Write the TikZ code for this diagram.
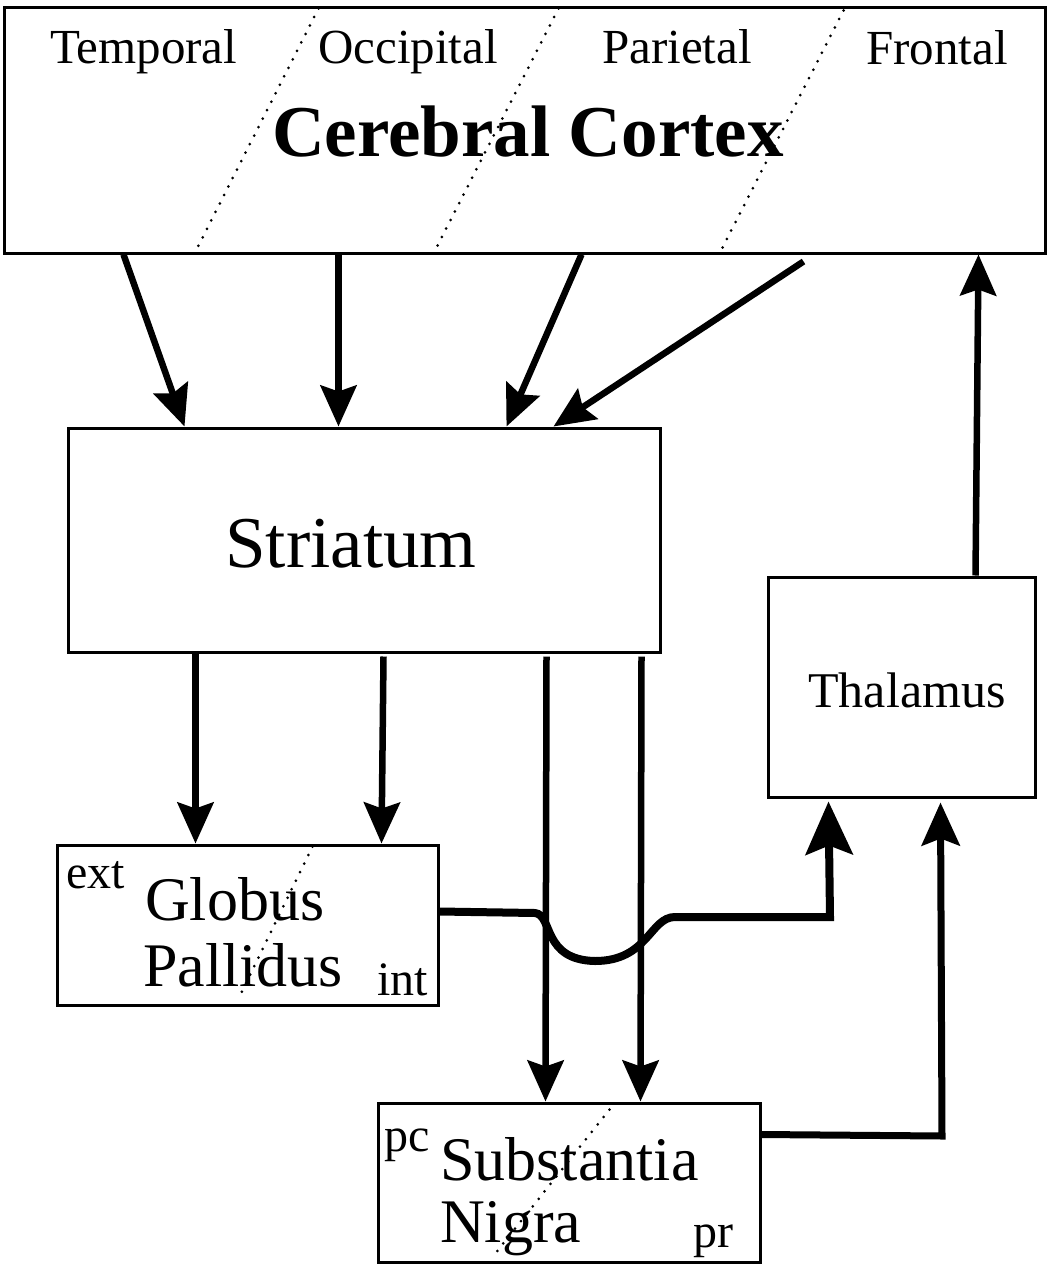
\documentclass[tikz,border=0pt]{standalone}
\usepackage{fontspec}
\setmainfont{Liberation Serif}
\usetikzlibrary{arrows.meta,calc}

\tikzset{
  box/.style={draw, line width=3pt, rectangle, inner sep=0pt},
  conn/.style={line width=6.5pt, line join=miter,
    -{Stealth[length=41pt,width=36pt,inset=6pt]}},
  bigconn/.style={line width=8pt, line join=miter,
    -{Stealth[length=53pt,width=47pt,inset=9pt]}},
  midconn/.style={line width=7pt, line join=miter,
    -{Stealth[length=43pt,width=38pt,inset=7pt]}},
  border/.style={dash pattern=on 0pt off 9.5pt, line cap=round, line width=3pt},
  lobe/.style={anchor=base west, font=\fontsize{49}{58}\selectfont, inner sep=0pt},
  big/.style={anchor=base, font=\fontsize{73}{86}\selectfont, inner sep=0pt},
  mid/.style={anchor=base west, font=\fontsize{62}{74}\selectfont, inner sep=0pt},
  sub/.style={anchor=base west, font=\fontsize{48}{58}\selectfont, inner sep=0pt},
}

\begin{document}
\begin{tikzpicture}[x=1pt,y=-1pt]
\useasboundingbox (0,0) rectangle (1051,1268);

% boxes
\node[box, minimum width=1041pt, minimum height=245pt] (cortex)   at (524.5,130.5) {};
\node[box, minimum width=592pt,  minimum height=224pt] (striatum) at (364,540) {};
\node[box, minimum width=267pt,  minimum height=220pt] (thalamus) at (901.5,687) {};
\node[box, minimum width=381pt,  minimum height=160pt] (gp)       at (247.5,925) {};
\node[box, minimum width=382pt,  minimum height=159pt] (sn)       at (569,1182.5) {};

% lobe borders inside the cortex
\draw[border] ($(cortex.north west)+(316,2)$) -- ($(cortex.south west)+(193,-3)$);
\draw[border] ($(cortex.north west)+(556,2)$) -- ($(cortex.south west)+(432,-3)$);
\draw[border] ($(cortex.north west)+(841,4)$) -- ($(cortex.south west)+(718,-3)$);

% ext / int and pc / pr borders
\draw[border] ($(gp.north west)+(257,3)$) -- ($(gp.south west)+(184,-10)$);
\draw[border] ($(sn.north west)+(233,8)$) -- ($(sn.south west)+(118,-9)$);

% labels
\node[lobe] (ltemp) at (50,64) {Temporal};
\node[lobe] (locc)  at (318,64) {Occipital};
\node[lobe] (lpar)  at (602,64) {Parietal};
\node[lobe] (lfro)  at (866,65) {Frontal};
\node[big, font=\fontsize{73}{86}\selectfont\bfseries] (lcortex) at (528,157) {Cerebral Cortex};
\node[big] (lstriatum) at (351,567) {Striatum};
\node[anchor=base, font=\fontsize{50}{60}\selectfont, inner sep=0pt] (lthal) at (907,707) {Thalamus};

\node[sub] (lext) at (66,888) {ext};
\node[mid] (lglob) at (145,920) {Globus};
\node[mid] (lpall) at (143,986) {Pallidus};
\node[sub] (lint) at (377,995) {int};

\node[sub] (lpc) at (384,1151) {pc};
\node[mid] (lsubs) at (440,1180) {Substantia};
\node[mid] (lnig) at (440,1242) {Nigra};
\node[sub] (lpr) at (693,1247) {pr};

% cortex -> striatum
\draw[conn] ($(cortex.south west)+(121,0)$) -- ($(striatum.north west)+(118,0)$);
\draw[conn] ($(cortex.south west)+(336,0)$) -- ($(striatum.north west)+(272,0)$);
\draw[conn] ($(cortex.south west)+(579,0)$) -- ($(striatum.north west)+(440,0)$);
\draw[conn] ($(cortex.south west)+(801,7)$) -- ($(striatum.north west)+(487,0)$);

% thalamus -> cortex
\draw[conn] ($(thalamus.north west)+(209,0)$) -- ($(cortex.south east)+(-68,0)$);

% striatum -> globus pallidus
\draw[conn] ($(striatum.south west)+(129,0)$) -- ($(gp.north west)+(140,0)$);
\draw[conn] ($(striatum.south west)+(317,3)$) -- ($(gp.north west)+(326,0)$);

% striatum -> substantia nigra
\draw[conn] ($(striatum.south west)+(480,3)$) -- ($(sn.north west)+(169,0)$);
\draw[conn] ($(striatum.south west)+(575,3)$) -- ($(sn.north west)+(264,0)$);

% globus pallidus -> thalamus (dipping under the two descending lines)
\coordinate (gpout) at ($(gp.north east)+(0,68)$);
\draw[bigconn] (gpout) -- (535,913)
  .. controls (553,915) and (542,960) .. (595,961)
  .. controls (648,961) and (650,917) .. (675,917)
  -- (830,917) -- ($(thalamus.south west)+(62,3)$);

% substantia nigra -> thalamus
\coordinate (snout) at ($(sn.north east)+(0,33)$);
\draw[midconn] (snout) -- (942,1136) -- ($(thalamus.south west)+(174,4)$);

\end{tikzpicture}
\end{document}
